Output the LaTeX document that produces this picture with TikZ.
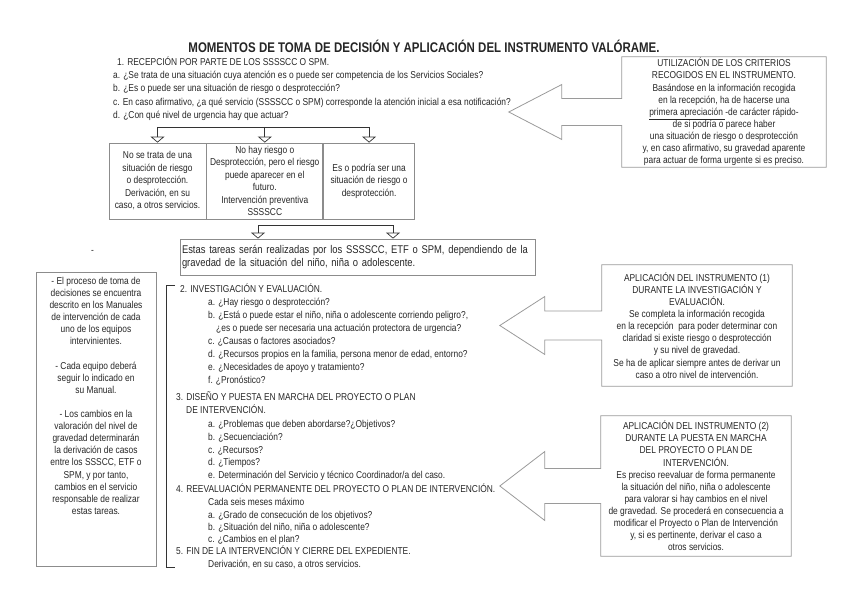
\documentclass[tikz,border=0pt]{standalone}
\usepackage{fontspec}
\setmainfont{Liberation Sans}[FakeStretch=0.84]
\newfontfamily\titlefont{Liberation Sans}[FakeStretch=0.82]
\usetikzlibrary{arrows.meta,positioning}

\definecolor{txt}{HTML}{262626}
\definecolor{boxgray}{HTML}{8C8C8C}
\definecolor{calloutgray}{HTML}{9A9A9A}

% box with a wide arrow pointing left: node, tip, neck, head half, shaft half
\newcommand{\leftcallout}[5]{%
  \draw[calloutline] (#1.north west) -- (#1.north east) -- (#1.south east) -- (#1.south west)
    -- ([yshift=-#5pt]#1.west) -- ([shift={(-#3pt,-#5pt)}]#1.west)
    -- ([shift={(-#3pt,-#4pt)}]#1.west) -- ([xshift=-#2pt]#1.west)
    -- ([shift={(-#3pt,#4pt)}]#1.west) -- ([shift={(-#3pt,#5pt)}]#1.west)
    -- ([yshift=#5pt]#1.west) -- cycle;}

\begin{document}
\begin{tikzpicture}[
    x=1pt, y=-1pt,
    every node/.style={inner sep=0pt, text=txt},
    line/.style={font=\fontsize{10}{12.5}\selectfont, anchor=base west, yshift=-3pt},
    box/.style={draw=boxgray, line width=0.8pt, align=center, font=\fontsize{10}{12.5}\selectfont, minimum height=76pt},
    note/.style={align=center, font=\fontsize{10}{12.1}\selectfont},
    calloutline/.style={draw=calloutgray, line width=0.8pt},
    link/.style={draw=black!80, line width=0.7pt},
    branch/.style={link, -{Triangle[open, width=14pt, length=6pt]}}
]
\useasboundingbox (0,0) rectangle (848,599);

% Title
\node[font=\titlefont\bfseries\fontsize{14}{16}\selectfont] (title) at (424,46)
    {MOMENTOS DE TOMA DE DECISIÓN Y APLICACIÓN DEL INSTRUMENTO VALÓRAME.};

% Reception
\foreach \x/\y/\txt [count=\i] in {
    117/63/{1. RECEPCIÓN POR PARTE DE LOS SSSSCC O SPM.},
    113/76/{a. ¿Se trata de una situación cuya atención es o puede ser competencia de los Servicios Sociales?},
    113/89/{b. ¿Es o puede ser una situación de riesgo o desprotección?},
    113/103/{c. En caso afirmativo, ¿a qué servicio (SSSSCC o SPM) corresponde la atención inicial a esa notificación?},
    113/116/{d. ¿Con qué nivel de urgencia hay que actuar?}}
  \node[line] (recep\i) at (\x,\y) {\txt};

% Three outcomes
\node[box, minimum width=97pt] (nose) at (157.5,181)
    {No se trata de una\\situación de riesgo\\o desprotección.\\Derivación, en su\\caso, a otros servicios.};
\node[box, minimum width=116pt, right=0pt of nose] (nohay)
    {No hay riesgo o\\Desprotección, pero el riesgo\\puede aparecer en el\\futuro.\\Intervención preventiva\\SSSSCC};
\node[box, minimum width=91pt, right=0pt of nohay] (eso)
    {Es o podría ser una\\situación de riesgo o\\desprotección.};

\coordinate (fork1) at (0,127);
\draw[link] (nose.north |- fork1) -- (eso.north |- fork1);
\foreach \n in {nose,nohay,eso}
  \draw[branch] (\n.north |- fork1) -- (\n.north);

% Tasks
\node[box, minimum width=355pt, minimum height=36pt, text width=351pt, align=left,
      font=\fontsize{11.2}{13.5}\selectfont] (tareas) at (357.5,257)
    {Estas tareas serán realizadas por los SSSSCC, ETF o SPM, dependiendo de la\\gravedad de la situación del niño, niña o adolescente.};

\coordinate (fork2l) at (258,225);
\coordinate (fork2r) at (393,225);
\draw[link] (fork2l) -- (fork2r);
\draw[branch] (fork2l) -- (fork2l |- tareas.north);
\draw[branch] (fork2r) -- (fork2r |- tareas.north);

\node[line] (guion) at (91,250) {-};

% Notes on the left
\node[draw=boxgray, line width=0.8pt, minimum width=120pt, minimum height=294pt, anchor=north] (notasbox) at (96,272) {};
\node[note, anchor=north] (notas) at (96,277)
    {- El proceso de toma de\\decisiones se encuentra\\descrito en los Manuales\\de intervención de cada\\uno de los equipos\\intervinientes.\\[12.1pt]
     - Cada equipo deberá\\seguir lo indicado en\\su Manual.\\[12.1pt]
     - Los cambios en la\\valoración del nivel de\\gravedad determinarán\\la derivación de casos\\entre los SSSCC, ETF o\\SPM, y por tanto,\\cambios en el servicio\\responsable de realizar\\estas tareas.};

% Steps 2 to 5
\coordinate (brtop) at (175,285);
\coordinate (brbot) at (175,567);
\draw[link] (brtop) -| (166,567) -- (brbot);

\foreach \x/\y/\txt [count=\i] in {
    180/289/{2. INVESTIGACIÓN Y EVALUACIÓN.},
    208/302/{a. ¿Hay riesgo o desprotección?},
    208/315/{b. ¿Está o puede estar el niño, niña o adolescente corriendo peligro?,},
    216/328/{¿es o puede ser necesaria una actuación protectora de urgencia?},
    208/341/{c. ¿Causas o factores asociados?},
    208/354/{d. ¿Recursos propios en la familia, persona menor de edad, entorno?},
    208/367/{e. ¿Necesidades de apoyo y tratamiento?},
    208/380/{f. ¿Pronóstico?},
    176/397/{3. DISEÑO Y PUESTA EN MARCHA DEL PROYECTO O PLAN},
    186/410/{DE INTERVENCIÓN.},
    208/424/{a. ¿Problemas que deben abordarse?¿Objetivos?},
    208/437/{b. ¿Secuenciación?},
    208/450/{c. ¿Recursos?},
    208/462/{d. ¿Tiempos?},
    208/475/{e. Determinación del Servicio y técnico Coordinador/a del caso.},
    176/489/{4. REEVALUACIÓN PERMANENTE DEL PROYECTO O PLAN DE INTERVENCIÓN.},
    208/502/{Cada seis meses máximo},
    208/515/{a. ¿Grado de consecución de los objetivos?},
    208/527/{b. ¿Situación del niño, niña o adolescente?},
    208/539/{c. ¿Cambios en el plan?},
    176/551/{5. FIN DE LA INTERVENCIÓN Y CIERRE DEL EXPEDIENTE.},
    208/564/{Derivación, en su caso, a otros servicios.}}
  \node[line] (paso\i) at (\x,\y) {\txt};

% Instrument callouts
\node[note, minimum width=204pt, minimum height=110pt] (criterios) at (724,112)
    {UTILIZACIÓN DE LOS CRITERIOS\\RECOGIDOS EN EL INSTRUMENTO.\\Basándose en la información recogida\\en la recepción, ha de hacerse una\\\underline{primera apreciación }-de carácter rápido-\\de si podría o parece haber\\una situación de riesgo o desprotección\\y, en caso afirmativo, su gravedad aparente\\para actuar de forma urgente si es preciso.};
\leftcallout{criterios}{113}{60}{27.5}{13.5}

\node[note, minimum width=190pt, minimum height=121pt] (aplic1) at (697,325.5)
    {APLICACIÓN DEL INSTRUMENTO (1)\\DURANTE LA INVESTIGACIÓN Y\\EVALUACIÓN.\\Se completa la información recogida\\en la recepción\ \ para poder determinar con\\claridad si existe riesgo o desprotección\\y su nivel de gravedad.\\Se ha de aplicar siempre antes de derivar un\\caso a otro nivel de intervención.};
\leftcallout{aplic1}{102}{57}{29}{14.5}

\node[note, minimum width=190pt, minimum height=140pt] (aplic2) at (696,486)
    {APLICACIÓN DEL INSTRUMENTO (2)\\DURANTE LA PUESTA EN MARCHA\\DEL PROYECTO O PLAN DE\\INTERVENCIÓN.\\Es preciso reevaluar de forma permanente\\la situación del niño, niña o adolescente\\para valorar si hay cambios en el nivel\\de gravedad. Se procederá en consecuencia a\\modificar el Proyecto o Plan de Intervención\\y, si es pertinente, derivar el caso a\\otros servicios.};
\leftcallout{aplic2}{101}{56}{34.5}{17.5}

\end{tikzpicture}
\end{document}
